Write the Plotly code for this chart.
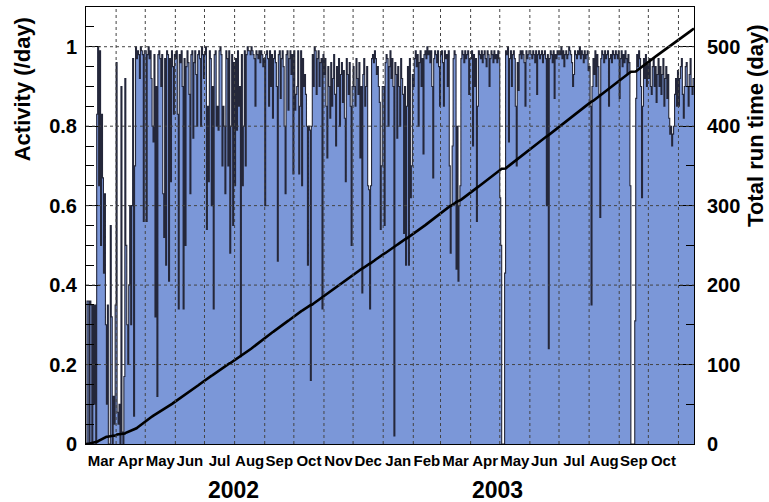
import numpy as np
import pandas as pd
import plotly.graph_objects as go

# ---------------- data (daily activity) ----------------
start_date = "2002-03-01"

act_2002_03 = [0.00, 0.36, 0.36, 0.00, 0.36, 0.35, 0.00, 0.35, 0.10, 0.35, 0.00, 0.83, 1.00, 0.65, 0.99, 0.50,
               0.83, 0.67, 0.43, 0.63, 0.30, 0.10, 0.35, 0.00, 0.00, 0.55, 0.32, 0.00, 0.12, 0.05, 0.35]
act_2002_04 = [0.96, 0.08, 0.05, 0.10, 0.00, 0.90, 0.03, 0.00, 0.17, 0.92, 0.50, 0.30, 0.20, 0.40, 0.60,
               0.30, 0.60, 0.97, 0.07, 0.70, 1.00, 0.97, 0.99, 0.98, 0.92, 1.00, 0.99, 0.98, 0.56, 0.99]
act_2002_05 = [0.99, 0.56, 0.98, 1.00, 0.97, 0.99, 0.92, 0.80, 0.76, 0.98, 0.32, 0.90, 0.12, 0.98, 0.99, 0.97,
               0.90, 0.98, 0.63, 0.52, 0.97, 0.45, 0.99, 0.98, 0.41, 0.97, 0.66, 0.99, 0.95, 0.83, 0.98]
act_2002_06 = [0.97, 0.99, 0.83, 0.34, 0.98, 0.96, 0.99, 0.90, 0.34, 0.97, 0.50, 0.95, 0.99, 0.96, 0.88,
               0.63, 0.98, 0.99, 0.77, 0.96, 0.99, 0.93, 0.80, 0.98, 0.99, 0.97, 0.80, 1.00, 0.98, 0.92]
act_2002_07 = [0.98, 1.00, 0.54, 0.85, 0.66, 0.99, 0.97, 0.60, 0.90, 0.34, 0.98, 0.99, 0.80, 0.85, 0.79, 0.99,
               1.00, 0.98, 0.70, 0.85, 0.80, 0.63, 0.99, 0.97, 0.70, 0.99, 0.48, 0.80, 0.98, 0.55, 0.96]
act_2002_08 = [0.65, 0.97, 0.79, 0.99, 0.85, 0.90, 0.22, 0.98, 0.65, 0.80, 0.99, 0.70, 0.98, 1.00, 0.99, 0.99,
               0.98, 1.00, 0.99, 0.98, 0.97, 0.85, 0.99, 0.98, 0.97, 0.99, 0.96, 0.99, 0.98, 0.95, 0.97]
act_2002_09 = [0.60, 0.98, 0.99, 0.97, 0.85, 0.99, 0.90, 0.98, 0.82, 0.97, 0.99, 0.96, 0.90, 0.46, 0.98,
               0.99, 0.87, 0.97, 0.99, 0.95, 0.80, 0.63, 0.98, 0.99, 0.84, 0.97, 0.99, 0.93, 0.98, 0.68]
act_2002_10 = [0.99, 0.84, 0.88, 0.90, 0.99, 0.68, 0.85, 0.99, 0.65, 0.97, 0.90, 0.93, 0.88, 0.80, 0.45, 0.80,
               0.79, 0.16, 0.80, 0.98, 0.90, 1.00, 0.99, 0.88, 0.97, 0.99, 0.90, 0.96, 0.97, 0.34, 0.98]
act_2002_11 = [0.93, 0.97, 0.85, 0.72, 0.95, 0.90, 0.82, 0.96, 0.85, 0.92, 0.98, 0.88, 0.75, 0.95, 0.90,
               0.97, 0.80, 0.93, 0.96, 0.86, 0.94, 0.82, 0.66, 0.97, 0.93, 0.88, 0.96, 0.85, 0.50, 0.90]
act_2002_12 = [0.95, 0.90, 0.85, 0.97, 0.92, 0.88, 0.96, 0.72, 0.90, 0.38, 0.93, 0.97, 0.85, 0.90, 0.95, 0.65,
               0.64, 0.34, 0.65, 0.97, 0.98, 0.96, 0.99, 0.97, 0.93, 0.95, 0.90, 0.86, 0.54, 0.70, 0.90]
act_2003_01 = [0.90, 0.55, 0.96, 0.98, 0.97, 0.80, 0.95, 0.99, 0.92, 0.97, 0.90, 0.02, 0.96, 0.93, 0.77, 0.95,
               0.90, 0.80, 0.97, 0.92, 0.88, 0.53, 0.90, 0.45, 0.85, 0.95, 0.45, 0.97, 0.62, 0.70, 0.93]
act_2003_02 = [0.90, 0.97, 0.99, 0.95, 0.98, 0.80, 0.96, 0.99, 0.90, 0.97, 0.73, 0.98, 0.99, 0.97,
               1.00, 0.98, 0.99, 0.96, 0.99, 0.90, 0.67, 0.97, 0.99, 0.98, 0.96, 0.99, 0.95, 0.85]
act_2003_03 = [0.98, 0.99, 0.96, 0.85, 0.99, 0.97, 0.98, 0.90, 0.99, 0.70, 0.48, 0.60, 0.75, 0.97, 0.99, 0.98,
               0.44, 0.80, 0.41, 0.60, 0.65, 0.97, 0.99, 0.98, 0.96, 0.99, 0.97, 0.98, 0.99, 0.88, 0.97]
act_2003_04 = [0.97, 0.99, 0.75, 0.98, 0.90, 0.97, 0.56, 0.85, 0.99, 0.98, 0.97, 0.99, 0.96, 0.98, 0.99,
               0.97, 0.95, 0.99, 0.98, 0.90, 0.97, 0.99, 0.98, 0.96, 0.99, 0.97, 0.98, 0.96, 0.99, 0.97]
act_2003_05 = [0.62, 0.50, 0.00, 0.00, 0.00, 0.43, 0.99, 0.98, 1.00, 0.76, 0.97, 0.99, 0.90, 0.98, 0.99, 0.97,
               0.85, 0.70, 0.96, 0.89, 0.98, 0.99, 0.97, 0.99, 0.98, 0.96, 0.85, 0.99, 0.97, 0.98, 0.99]
act_2003_06 = [0.99, 0.98, 0.97, 0.99, 0.98, 0.96, 0.99, 0.88, 0.98, 0.99, 0.97, 0.98, 0.99, 0.96, 0.98,
               0.99, 0.97, 0.60, 0.98, 0.24, 0.97, 0.99, 0.98, 0.96, 0.99, 0.87, 0.98, 0.97, 0.99, 0.98]
act_2003_07 = [0.99, 0.98, 1.00, 0.97, 0.99, 0.95, 0.98, 0.99, 0.97, 0.98, 1.00, 0.99, 0.98, 0.96, 0.90, 0.93,
               0.99, 0.98, 0.97, 0.99, 0.98, 1.00, 0.97, 0.99, 0.98, 0.96, 0.99, 0.97, 0.98, 0.99, 0.94]
act_2003_08 = [0.95, 0.85, 0.35, 0.90, 0.97, 0.93, 0.99, 0.90, 0.98, 0.95, 0.88, 0.57, 0.97, 0.99, 0.98, 0.96,
               0.99, 0.97, 0.98, 0.99, 0.85, 0.97, 0.98, 0.96, 0.99, 0.98, 0.97, 0.99, 0.98, 0.97, 0.99]
act_2003_09 = [0.87, 0.97, 0.99, 0.95, 0.98, 0.96, 0.99, 0.97, 0.93, 0.98, 0.96, 0.65, 0.00, 0.00, 0.00,
               0.00, 0.31, 0.87, 0.98, 0.95, 0.99, 0.97, 0.90, 0.62, 0.85, 0.97, 0.92, 0.98, 0.90, 0.96]
act_2003_10 = [0.92, 0.97, 0.90, 0.88, 0.95, 0.97, 0.90, 0.95, 0.86, 0.93, 0.97, 0.90, 0.95, 0.88, 0.93, 0.97,
               0.85, 0.92, 0.95, 0.87, 0.93, 0.82, 0.78, 0.80, 0.75, 0.78, 0.80, 0.88, 0.92, 0.85, 0.94]
act_2003_11 = [0.85, 0.92, 0.95, 0.97, 0.88, 0.82, 0.90, 0.95, 0.96, 0.90, 0.85, 0.93, 0.97, 0.90, 0.88, 0.92]

month_labels = ["Mar", "Apr", "May", "Jun", "Jul", "Aug", "Sep", "Oct", "Nov", "Dec",
                "Jan", "Feb", "Mar", "Apr", "May", "Jun", "Jul", "Aug", "Sep", "Oct"]
year_labels = ["2002", "2003"]
left_ticks = [0.2, 0.4, 0.6, 0.8, 1.0]

# ---------------- build ----------------
months = [act_2002_03, act_2002_04, act_2002_05, act_2002_06, act_2002_07, act_2002_08,
          act_2002_09, act_2002_10, act_2002_11, act_2002_12, act_2003_01, act_2003_02,
          act_2003_03, act_2003_04, act_2003_05, act_2003_06, act_2003_07, act_2003_08,
          act_2003_09, act_2003_10, act_2003_11]
activity = np.array([v for m in months for v in m])
n = len(activity)
days = pd.date_range(start_date, periods=n + 1, freq="D")
y_step = np.append(activity, activity[-1])
cumulative = np.concatenate([[0.0], np.cumsum(activity)])

month_starts = pd.date_range(start_date, periods=len(month_labels) + 1, freq="MS")
month_mids = month_starts[:-1] + (month_starts[1:] - month_starts[:-1]) / 2

FONT = "Liberation Sans"
fig = go.Figure()
fig.add_trace(go.Scatter(
    x=days, y=y_step, mode="lines",
    line=dict(shape="hv", color="#24273a", width=1.1),
    fill="tozeroy", fillcolor="#7b97d8", hoverinfo="skip", showlegend=False))
fig.add_trace(go.Scatter(
    x=days, y=cumulative, mode="lines", yaxis="y2",
    line=dict(color="black", width=2.6), hoverinfo="skip", showlegend=False))

shapes = []
for d in month_starts[1:]:
    shapes.append(dict(type="line", xref="x", yref="paper", x0=d, x1=d, y0=0, y1=1,
                       line=dict(color="#444", width=1, dash="dot"), layer="above"))
for v in left_ticks:
    shapes.append(dict(type="line", xref="paper", yref="y", x0=0, x1=1, y0=v, y1=v,
                       line=dict(color="#444", width=1, dash="dot"), layer="above"))

tick_font = dict(family=FONT, size=20, color="black", weight="bold")
fig.update_layout(
    width=769, height=502,
    margin=dict(l=86, r=75, t=7, b=58),
    paper_bgcolor="white", plot_bgcolor="white",
    shapes=shapes,
    xaxis=dict(type="date", range=[days[0], days[-1]],
               tickvals=month_mids, ticktext=month_labels, ticks="", tickangle=0,
               tickfont=dict(family=FONT, size=15, color="black", weight="bold"),
               showgrid=False, zeroline=False,
               showline=True, linecolor="black", linewidth=1, mirror=True,
               ticklabelstandoff=3),
    yaxis=dict(range=[0, 1.1], tickvals=[0] + left_ticks, ticks="inside", ticklen=14,
               tickcolor="black",
               minor=dict(dtick=0.05, ticks="inside", ticklen=8, tickcolor="black"),
               tickfont=tick_font, showgrid=False, zeroline=False,
               showline=True, linecolor="black", linewidth=1, ticklabelstandoff=4),
    yaxis2=dict(range=[0, 550], overlaying="y", side="right", dtick=100, ticks="inside",
                ticklen=15, tickcolor="black",
                minor=dict(dtick=50, ticks="inside", ticklen=8, tickcolor="black"),
                tickfont=tick_font, showgrid=False, zeroline=False,
                showline=True, linecolor="black", linewidth=1, ticklabelstandoff=8),
    annotations=[
        dict(text="Activity (/day)", xref="paper", yref="paper", x=-0.105, y=0.812,
             textangle=-90, showarrow=False, xanchor="center", yanchor="middle",
             font=dict(family=FONT, size=22, color="black", weight="bold")),
        dict(text="Total run time (day)", xref="paper", yref="paper", x=1.102, y=0.728,
             textangle=-90, showarrow=False, xanchor="center", yanchor="middle",
             font=dict(family=FONT, size=22, color="black", weight="bold")),
        dict(text=year_labels[0], xref="paper", yref="paper", x=0.242, y=-0.105,
             showarrow=False, xanchor="center", yanchor="middle",
             font=dict(family=FONT, size=23, color="black", weight="bold")),
        dict(text=year_labels[1], xref="paper", yref="paper", x=0.676, y=-0.105,
             showarrow=False, xanchor="center", yanchor="middle",
             font=dict(family=FONT, size=23, color="black", weight="bold")),
    ],
)

fig.write_html("out.html")
